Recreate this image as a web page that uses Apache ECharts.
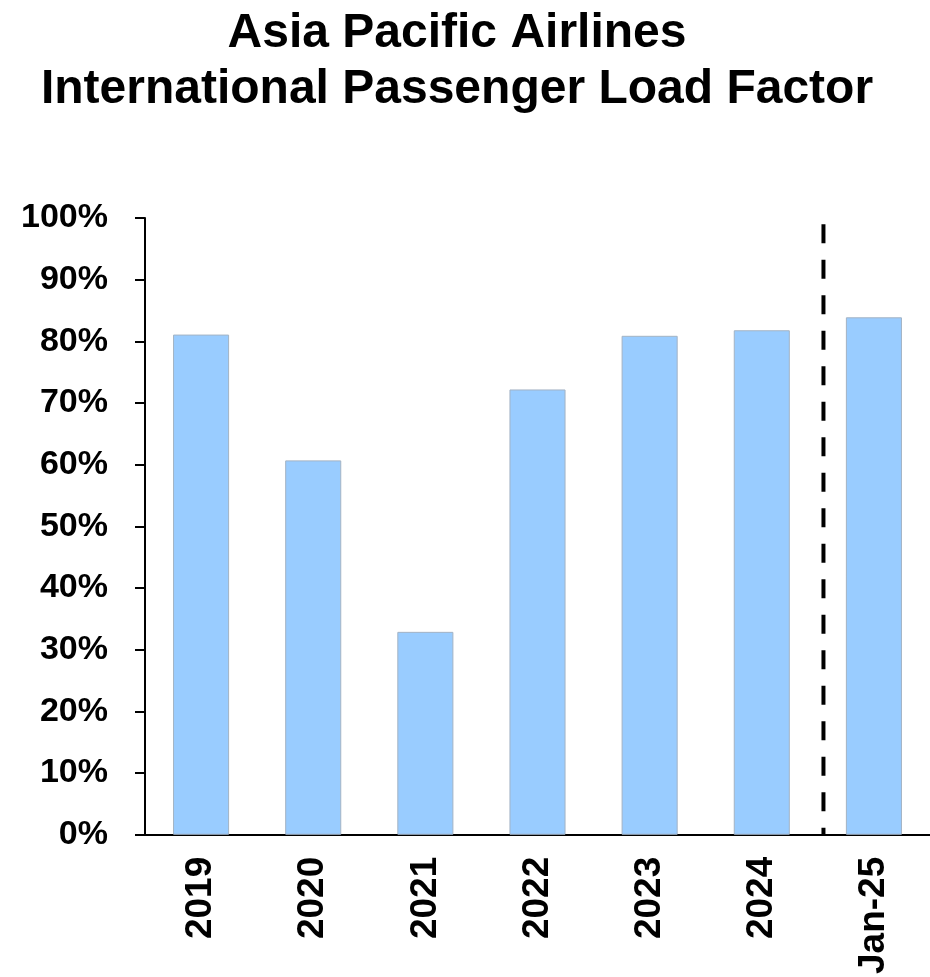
<!DOCTYPE html>
<html>
<head>
<meta charset="utf-8">
<script src="https://cdn.jsdelivr.net/npm/echarts@6/dist/echarts.min.js"></script>
<style>
html,body{margin:0;padding:0;background:#fff;overflow:hidden;}
#chart{width:930px;height:977px;}
</style>
</head>
<body>
<div id="chart"></div>
<script>
var categories = ['2019', '2020', '2021', '2022', '2023', '2024', 'Jan-25'];
var loadFactor = [81.1, 60.7, 32.9, 72.2, 80.9, 81.8, 83.9];
var yTicks = [0, 10, 20, 30, 40, 50, 60, 70, 80, 90, 100];
var dividerPos = 6.05;      // position on a 0..7 category scale
var dividerRange = [0, 99]; // y extent of dashed divider

var chart = echarts.init(document.getElementById('chart'), null, {renderer: 'canvas'});
var font = 'Liberation Sans, Arial, sans-serif';
chart.setOption({
  backgroundColor: '#ffffff',
  animation: false,
  title: {
    text: 'Asia Pacific Airlines\nInternational Passenger Load Factor',
    left: 452, top: 1, textAlign: 'center',
    textStyle: {fontFamily: font, fontWeight: 'bold', fontSize: 48, lineHeight: 56, color: '#000'}
  },
  grid: {left: 145, top: 218, bottom: 138, width: 789, containLabel: false},
  xAxis: [{
    type: 'category', data: categories,
    axisLine: {show: true, lineStyle: {color: '#000', width: 2}},
    axisTick: {show: false},
    axisLabel: {rotate: 90, margin: 22, fontFamily: font, fontWeight: 'bold', fontSize: 37, color: '#000', interval: 0}
  }, {
    type: 'value', min: 0, max: 7, show: false
  }],
  yAxis: {
    type: 'value', min: yTicks[0], max: yTicks[yTicks.length - 1], interval: 10,
    axisLine: {show: true, lineStyle: {color: '#000', width: 2}},
    axisTick: {show: true, inside: false, length: 10, lineStyle: {color: '#000', width: 2}},
    splitLine: {show: false},
    axisLabel: {margin: 37, fontFamily: font, fontWeight: 'bold', fontSize: 34, color: '#000',
      formatter: function (v) { return v + '%'; }}
  },
  series: [{
    type: 'bar', data: loadFactor, barWidth: '50%',
    itemStyle: {color: '#99CCFF', borderColor: '#a3b3c4', borderWidth: 1}
  }, {
    type: 'line', xAxisIndex: 1, symbol: 'none',
    data: [[dividerPos, dividerRange[1]], [dividerPos, dividerRange[0]]],
    lineStyle: {color: '#000', width: 4, type: [19, 16.5]}
  }]
});
</script>
</body>
</html>
